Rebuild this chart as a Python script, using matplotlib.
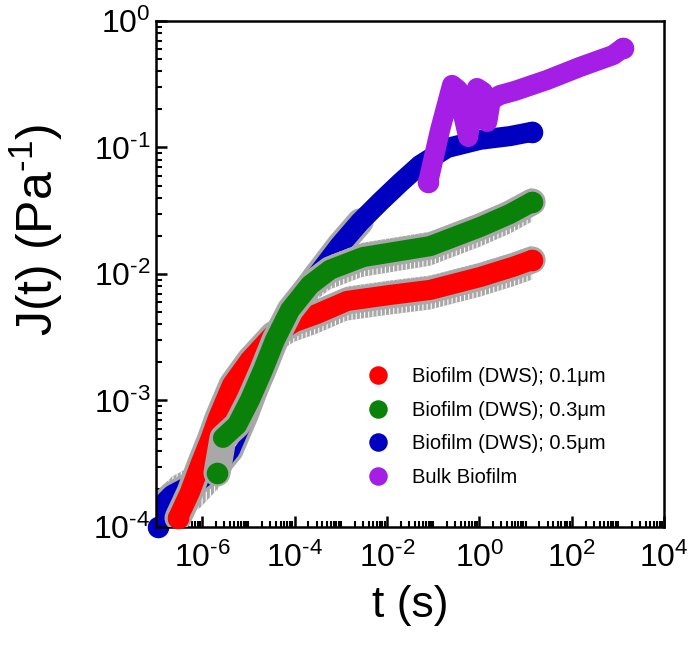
import numpy as np
import matplotlib
matplotlib.use('Agg')
import matplotlib.pyplot as plt
from matplotlib.ticker import LogLocator, FuncFormatter, NullFormatter

plt.rcParams['font.family'] = ['Liberation Sans', 'DejaVu Sans']
plt.rcParams['mathtext.fontset'] = 'custom'
plt.rcParams['mathtext.rm'] = 'Liberation Sans'
plt.rcParams['mathtext.it'] = 'Liberation Sans:italic'
plt.rcParams['hatch.color'] = 'white'
plt.rcParams['hatch.linewidth'] = 0.8

# DWS 0.1 um (red)
t_red = [2.99e-7, 5.44e-7, 8.97e-7, 1.48e-6, 2.2e-6, 4.43e-6, 1.08e-5, 3.42e-5, 1.02e-4,
         3.06e-4, 1.37e-3, 1.17e-2, 8.6e-2, 1.04, 5.4, 13.9]
j_red = [1.18e-4, 1.89e-4, 3.09e-4, 4.87e-4, 7.28e-4, 1.33e-3, 2.09e-3, 3.3e-3, 4.18e-3,
         4.83e-3, 6.12e-3, 6.83e-3, 7.48e-3, 9.46e-3, 1.14e-2, 1.29e-2]
e_red = [0.3, 0.35, 0.35, 0.35, 0.35, 0.3, 0.3, 0.3, 0.3,
         0.3, 0.3, 0.3, 0.3, 0.3, 0.3, 0.3]

# DWS 0.3 um (green)
t_green = [2.09e-6, 2.82e-6, 5.68e-6, 1.08e-5, 2.07e-5, 3.77e-5, 7.98e-5, 2.16e-4, 5.86e-4,
           3.03e-3, 8.6e-2, 1.04, 4.6, 13.9]
j_green = [2.67e-4, 5.06e-4, 6.4e-4, 1.01e-3, 1.74e-3, 3.01e-3, 5.19e-3, 8.18e-3, 1.08e-2,
           1.36e-2, 1.66e-2, 2.35e-2, 2.98e-2, 3.71e-2]
e_green = [0.3, 0.3, 0.3, 0.3, 0.3, 0.3, 0.3, 0.3, 0.3,
           0.3, 0.3, 0.3, 0.3, 0.3]

# DWS 0.5 um (blue)
t_blue = [1.10e-7, 1.22e-7, 2.22e-7, 4.25e-7, 8.97e-7, 1.9e-6, 4.0e-6, 8.45e-6, 1.97e-5,
          4.17e-5, 7.98e-5, 2.77e-4, 9.64e-4, 2.62e-3, 7.1e-3, 1.92e-2, 5.2e-2, 0.2, 1.04,
          4.63, 13.9]
j_blue = [1.0e-4, 1.44e-4, 1.79e-4, 2.03e-4, 2.36e-4, 2.92e-4, 4.06e-4, 7.68e-4, 1.74e-3,
          3.3e-3, 4.92e-3, 9.3e-3, 1.69e-2, 2.58e-2, 3.71e-2, 5.24e-2, 7.27e-2, 9.9e-2, 0.115,
          0.123, 0.133]
e_blue = [0.4, 0.4, 0.4, 0.4, 0.4, 0.35, 0.35, 0.3, 0.3,
          0.25, 0.25, 0.2, 0.2, 0.15, 0, 0, 0, 0, 0,
          0, 0]

# bulk biofilm (purple)
t_bulk = [7.8e-2, 0.141, 0.257, 0.347, 0.447, 0.575, 0.692, 0.891, 1.2, 1.48, 1.78,
          2.82, 5.9, 29.5, 151, 794, 1290]
j_bulk = [5.33e-2, 0.137, 0.312, 0.285, 0.181, 0.121, 0.198, 0.295, 0.275, 0.159, 0.237,
          0.26, 0.28, 0.342, 0.433, 0.538, 0.612]

labels = ['Biofilm (DWS); 0.1μm', 'Biofilm (DWS); 0.3μm', 'Biofilm (DWS); 0.5μm', 'Bulk Biofilm']
c_red = '#ff0000'
c_green = '#0a820a'
c_blue = '#0000c0'
c_bulk = '#a51ee6'
c_err = '#a8a8a8'

fig = plt.figure(figsize=(6.95, 6.45), dpi=100)
ax = fig.add_axes([0.2245, 0.183, 0.731, 0.7845])

lw = 14.5


def draw_series(t, j, e, color, z, label, first_alone=False):
    t = np.array(t)
    j = np.array(j)
    if e is not None:
        e = np.array(e)
        m = e > 0
        ax.fill_between(t[m], j[m] * (1 - e[m]), j[m] * (1 + e[m]), facecolor=c_err,
                        edgecolor='none', hatch='||||', zorder=z, linewidth=0)
        ax.plot(t[m], j[m], color=c_err, lw=lw + 5, solid_capstyle='round',
                solid_joinstyle='round', zorder=z)
    s = 1 if first_alone else 0
    ax.plot(t[s:], j[s:], color=color, lw=lw, solid_capstyle='round',
            solid_joinstyle='round', zorder=z + 0.5)
    ax.plot(t[[0, -1]], j[[0, -1]], 'o', color=color, ms=lw, ls='none', zorder=z + 0.5,
            label=label, clip_on=False)


draw_series(t_blue, j_blue, e_blue, c_blue, 2, labels[2])
draw_series(t_red, j_red, e_red, c_red, 3, labels[0])
draw_series(t_green, j_green, e_green, c_green, 4, labels[1], first_alone=True)
draw_series(t_bulk, j_bulk, None, c_bulk, 5, labels[3])

ax.set_xscale('log')
ax.set_yscale('log')
ax.set_xlim(1e-7, 1e4)
ax.set_ylim(1e-4, 1e0)


def pow_label(v, p):
    n = int(round(np.log10(v)))
    s = str(abs(n))
    if n < 0:
        s = '\u2010' + s
    return r'$\mathregular{10^{%s}}$' % s


ax.xaxis.set_major_locator(LogLocator(base=100, numticks=20))
ax.xaxis.set_minor_locator(LogLocator(base=10, subs=np.arange(1, 10), numticks=100))
ax.yaxis.set_major_locator(LogLocator(base=10, numticks=20))
ax.yaxis.set_minor_locator(LogLocator(base=10, subs=np.arange(2, 10), numticks=100))
ax.xaxis.set_major_formatter(FuncFormatter(pow_label))
ax.yaxis.set_major_formatter(FuncFormatter(pow_label))
ax.xaxis.set_minor_formatter(NullFormatter())
ax.yaxis.set_minor_formatter(NullFormatter())

ax.tick_params(which='major', direction='in', length=8, width=1.8, labelsize=23)
ax.tick_params(which='minor', direction='in', length=4, width=1.5)
ax.tick_params(axis='x', which='major', pad=11)
ax.tick_params(axis='y', which='major', pad=4)
for sp in ax.spines.values():
    sp.set_linewidth(1.8)

ax.set_xlabel('t (s)', fontsize=32)
ax.xaxis.set_label_coords(0.5, -0.115)
ax.set_ylabel('J(t) (Pa$\\mathregular{^{\u20101}}$)', fontsize=36)
ax.yaxis.set_label_coords(-0.179, 0.587)

h, l = ax.get_legend_handles_labels()
order = [l.index(s) for s in labels]
leg = ax.legend([h[i] for i in order], [l[i] for i in order], loc='center left',
                bbox_to_anchor=(0.4165, 0.1976), frameon=False, fontsize=14.5,
                handlelength=1.0, handletextpad=1.2, labelspacing=0.72,
                borderpad=0, borderaxespad=0, markerscale=0.85)

fig.savefig('out.png', dpi=100)
